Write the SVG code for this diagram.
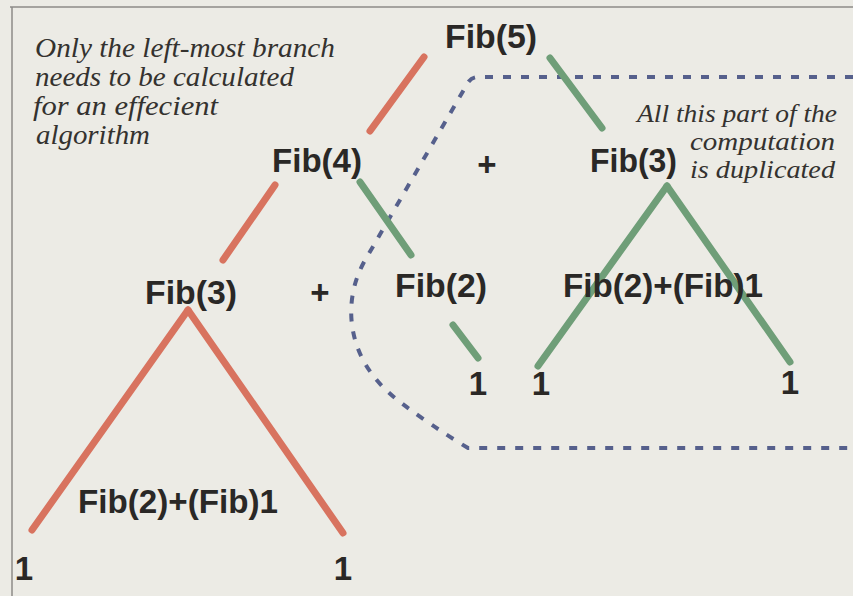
<svg xmlns="http://www.w3.org/2000/svg" width="853" height="596" viewBox="0 0 853 596">
  <style>
    .fib { font-family: "Liberation Sans", Arial, sans-serif; font-weight: bold; font-size: 33px; fill: #2a2826; }
    .note { font-family: "Liberation Serif", "Times New Roman", serif; font-style: italic; font-size: 28px; fill: #34322f; }
    .note-r { font-family: "Liberation Serif", "Times New Roman", serif; font-style: italic; font-size: 25px; fill: #34322f; }
    .red { stroke: #d8735f; stroke-width: 7; stroke-linecap: round; fill: none; }
    .green { stroke: #6f9e78; stroke-width: 7; stroke-linecap: round; fill: none; }
    .dash { stroke: #56608c; stroke-width: 4; stroke-dasharray: 8 10; fill: none; }
    .frame { stroke: #8d8c88; stroke-width: 1.5; fill: none; }
  </style>
  <rect x="0" y="0" width="853" height="596" fill="#ecebe5"/>
  <g id="frame">
    <path class="frame" d="M 10,7 L 853,7 M 12,7 L 12,596"/>
  </g>

  <g id="connectors">
    <path class="dash" d="M 853,77 L 478,77 Q 470,77 466,86 L 364,262 Q 348,292 352,325 Q 358,370 400,402 Q 430,425 468,448 L 853,448"/>
    <line class="red" x1="424" y1="57" x2="370" y2="131"/>
    <line class="red" x1="275" y1="185" x2="223" y2="260"/>
    <line class="red" x1="188" y1="310" x2="32" y2="530"/>
    <line class="red" x1="188" y1="310" x2="343" y2="533"/>
    <line class="green" x1="550" y1="58" x2="602" y2="128"/>
    <line class="green" x1="360" y1="182" x2="411" y2="255"/>
    <line class="green" x1="453" y1="325" x2="478" y2="358"/>
    <line class="green" x1="667" y1="186" x2="538" y2="366"/>
    <line class="green" x1="667" y1="186" x2="790" y2="362"/>
  </g>

  <g id="note-left">
    <text class="note" x="35" y="57" textLength="300" lengthAdjust="spacingAndGlyphs">Only the left-most branch</text>
    <text class="note" x="35" y="86" textLength="259" lengthAdjust="spacingAndGlyphs">needs to be calculated</text>
    <text class="note" x="33" y="115" textLength="185" lengthAdjust="spacingAndGlyphs">for an effecient</text>
    <text class="note" x="36" y="144" textLength="114" lengthAdjust="spacingAndGlyphs">algorithm</text>
  </g>
  <g id="note-right">
    <text class="note-r" x="637" y="122" textLength="200" lengthAdjust="spacingAndGlyphs">All this part of the</text>
    <text class="note-r" x="690" y="150" textLength="145" lengthAdjust="spacingAndGlyphs">computation</text>
    <text class="note-r" x="690" y="178" textLength="145" lengthAdjust="spacingAndGlyphs">is duplicated</text>
  </g>

  <g id="fib5"><text class="fib" x="445" y="48" textLength="92" lengthAdjust="spacingAndGlyphs">Fib(5)</text></g>
  <g id="fib4"><text class="fib" x="272" y="172" textLength="90" lengthAdjust="spacingAndGlyphs">Fib(4)</text></g>
  <g id="plus-top"><text class="fib" x="487" y="176" text-anchor="middle">+</text></g>
  <g id="fib3-right"><text class="fib" x="590" y="172" textLength="87" lengthAdjust="spacingAndGlyphs">Fib(3)</text></g>
  <g id="fib3-left"><text class="fib" x="145" y="304" textLength="92" lengthAdjust="spacingAndGlyphs">Fib(3)</text></g>
  <g id="plus-mid"><text class="fib" x="320" y="304" text-anchor="middle">+</text></g>
  <g id="fib2"><text class="fib" x="395" y="297" textLength="92" lengthAdjust="spacingAndGlyphs">Fib(2)</text></g>
  <g id="sum-right"><text class="fib" x="563" y="297" textLength="200" lengthAdjust="spacingAndGlyphs">Fib(2)+(Fib)1</text></g>
  <g id="sum-left"><text class="fib" x="78" y="513" textLength="200" lengthAdjust="spacingAndGlyphs">Fib(2)+(Fib)1</text></g>
  <g id="one-a"><text class="fib" x="478" y="395" text-anchor="middle">1</text></g>
  <g id="one-b"><text class="fib" x="541" y="395" text-anchor="middle">1</text></g>
  <g id="one-c"><text class="fib" x="790" y="394" text-anchor="middle">1</text></g>
  <g id="one-d"><text class="fib" x="24" y="580" text-anchor="middle">1</text></g>
  <g id="one-e"><text class="fib" x="343" y="580" text-anchor="middle">1</text></g>
</svg>
